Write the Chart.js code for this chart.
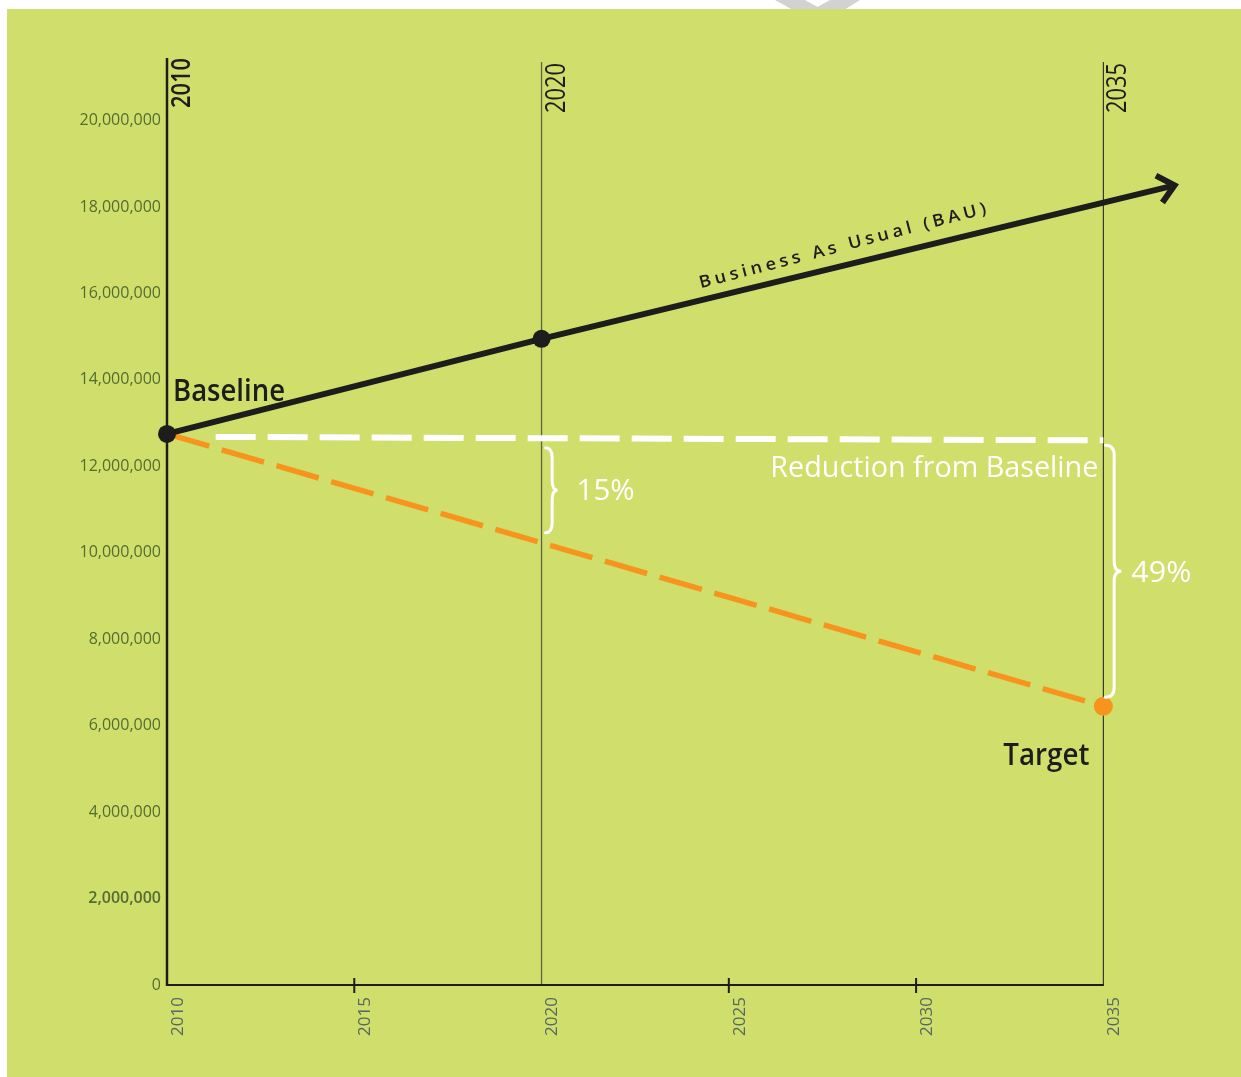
<!DOCTYPE html>
<html>
<head>
<meta charset="utf-8">
<script src="https://cdn.jsdelivr.net/npm/chart.js@4.4.1/dist/chart.umd.min.js"></script>
<style>
  html, body { margin: 0; padding: 0; background: #ffffff; }
  #wrap { width: 1241px; height: 1077px; }
</style>
</head>
<body>
<div id="wrap"><canvas id="c" width="1241" height="1077"></canvas></div>
<script>
// ---------- data ----------
const bauYears = [2010, 2020, 2036.9];
const bauValues = [12750000, 14950000, 18500000];
const reductionYears = [2011.3, 2035];
const reductionValues = [12680000, 12600000];
const targetYears = [2010, 2035];
const targetValues = [12750000, 6450000];

const xTickValues = [2010, 2015, 2020, 2025, 2030, 2035];
const xTickLabels = ['2010', '2015', '2020', '2025', '2030', '2035'];
const yTickValues = [0, 2000000, 4000000, 6000000, 8000000, 10000000, 12000000, 14000000, 16000000, 18000000, 20000000];
const yTickLabels = ['0', '2,000,000', '4,000,000', '6,000,000', '8,000,000', '10,000,000', '12,000,000', '14,000,000', '16,000,000', '18,000,000', '20,000,000'];
const markerYears = [2010, 2020, 2035];
const markerLabels = ['2010', '2020', '2035'];
const minorTickYears = [2015, 2025, 2030];

const labelBAU = 'Business As Usual (BAU)';
const labelBaseline = 'Baseline';
const labelTarget = 'Target';
const labelReduction = 'Reduction from Baseline';
const label15 = '15%';
const label49 = '49%';

const toPts = (xs, ys) => xs.map((x, i) => ({ x: x, y: ys[i] }));

const FONT = '"Open Sans", "Noto Sans", sans-serif';
const GREEN = 'rgb(208,223,107)';

function drawText(ctx, s, x, y, o) {
  ctx.save();
  ctx.translate(x, y);
  if (o.rot) ctx.rotate(o.rot);
  ctx.font = (o.weight || 400) + ' ' + o.size + 'px ' + FONT;
  ctx.letterSpacing = (o.spacing || 0) + 'px';
  ctx.textBaseline = 'alphabetic';
  ctx.textAlign = 'left';
  const w = ctx.measureText(s).width - (o.spacing || 0);
  const sx = o.width ? o.width / w : 1;
  ctx.scale(sx, 1);
  let dx = 0;
  if (o.align === 'right') dx = -w;
  else if (o.align === 'center') dx = -w / 2;
  ctx.fillStyle = o.color;
  ctx.fillText(s, dx, 0);
  ctx.restore();
}

function brace(ctx, x, y1, y2, w) {
  const mid = (y1 + y2) / 2;
  const r = Math.min(10, (y2 - y1) / 6);
  const xm = x + w * 0.55;
  ctx.beginPath();
  ctx.moveTo(x, y1);
  ctx.quadraticCurveTo(xm, y1, xm, y1 + r);
  ctx.lineTo(xm, mid - r);
  ctx.quadraticCurveTo(xm, mid, x + w, mid);
  ctx.quadraticCurveTo(xm, mid, xm, mid + r);
  ctx.lineTo(xm, y2 - r);
  ctx.quadraticCurveTo(xm, y2, x, y2);
  ctx.stroke();
}

const bgPlugin = {
  id: 'bg',
  beforeDraw(chart) {
    const ctx = chart.ctx;
    ctx.save();
    ctx.fillStyle = '#ffffff';
    ctx.fillRect(0, 0, chart.width, chart.height);
    // faint grey mark behind the panel top
    ctx.fillStyle = '#d2d2d2';
    ctx.beginPath();
    ctx.moveTo(775, 0); ctx.lineTo(805, 0); ctx.lineTo(823, 10); ctx.lineTo(793, 10); ctx.closePath(); ctx.fill();
    ctx.beginPath();
    ctx.moveTo(830, 0); ctx.lineTo(860, 0); ctx.lineTo(844, 10); ctx.lineTo(812, 10); ctx.closePath(); ctx.fill();
    ctx.fillStyle = GREEN;
    ctx.fillRect(7, 9, chart.width - 7, chart.height - 9);
    ctx.restore();
  },
  beforeDatasetsDraw(chart) {
    const ctx = chart.ctx;
    const xs = chart.scales.x, ys = chart.scales.y;
    const top = chart.chartArea.top;
    const y0 = ys.getPixelForValue(0);
    ctx.save();
    // vertical marker lines
    markerYears.forEach((yr, i) => {
      const px = xs.getPixelForValue(yr);
      ctx.beginPath();
      if (i === 0) { ctx.strokeStyle = '#1d1d1b'; ctx.lineWidth = 2.5; ctx.moveTo(px, top - 2); }
      else if (i === 1) { ctx.strokeStyle = '#5a6448'; ctx.lineWidth = 1.3; ctx.moveTo(px, top + 2); }
      else { ctx.strokeStyle = '#2a2a28'; ctx.lineWidth = 1.1; ctx.moveTo(px, top + 2); }
      ctx.lineTo(px, y0 + 1);
      ctx.stroke();
    });
    // x axis line
    ctx.strokeStyle = '#1d1d1b';
    ctx.lineWidth = 2;
    ctx.beginPath();
    ctx.moveTo(xs.getPixelForValue(markerYears[0]), y0);
    ctx.lineTo(xs.getPixelForValue(markerYears[markerYears.length - 1]), y0);
    ctx.stroke();
    // minor ticks
    ctx.lineWidth = 2;
    minorTickYears.forEach(yr => {
      const px = xs.getPixelForValue(yr);
      ctx.beginPath();
      ctx.moveTo(px, y0 - 7);
      ctx.lineTo(px, y0 + 8);
      ctx.stroke();
    });
    // top year labels
    markerLabels.forEach((lab, i) => {
      const px = xs.getPixelForValue(markerYears[i]);
      const bottom = i === 0 ? top + 48 : top + 53;
      drawText(ctx, lab, px + 23, bottom, { size: 27, weight: i === 0 ? 600 : 500, color: '#1d1d1b', rot: -Math.PI / 2, width: 50 });
    });
    ctx.restore();
  },
  afterDatasetsDraw(chart) {
    const ctx = chart.ctx;
    const xs = chart.scales.x, ys = chart.scales.y;
    ctx.save();
    // arrow head on BAU
    const n = bauYears.length;
    const tx = xs.getPixelForValue(bauYears[n - 1]), ty = ys.getPixelForValue(bauValues[n - 1]);
    const px = xs.getPixelForValue(bauYears[n - 2]), py = ys.getPixelForValue(bauValues[n - 2]);
    const ang = Math.atan2(ty - py, tx - px);
    const L = 21, spread = 0.72;
    ctx.strokeStyle = '#1d1d1b';
    ctx.lineWidth = 6;
    ctx.lineJoin = 'miter';
    ctx.lineCap = 'butt';
    ctx.beginPath();
    ctx.moveTo(tx - L * Math.cos(ang - spread), ty - L * Math.sin(ang - spread));
    ctx.lineTo(tx, ty);
    ctx.lineTo(tx - L * Math.cos(ang + spread), ty - L * Math.sin(ang + spread));
    ctx.stroke();

    // BAU label along the line
    const bx = xs.getPixelForValue(2024.25);
    const by0 = ys.getPixelForValue(bauValues[1]) + (bx - xs.getPixelForValue(bauYears[1])) * Math.tan(ang);
    drawText(ctx, labelBAU, bx, by0 - 12, { size: 17, weight: 600, color: '#1d1d1b', rot: ang - 0.018, spacing: 3.6, width: 296 });

    const x2010 = xs.getPixelForValue(2010), x2020 = xs.getPixelForValue(2020), x2035 = xs.getPixelForValue(2035);
    const yBase = ys.getPixelForValue(bauValues[0]);
    const yTarget = ys.getPixelForValue(targetValues[1]);
    const yRed = ys.getPixelForValue(reductionValues[1]);
    const yRed2020 = ys.getPixelForValue(12640000);
    const yT2020 = ys.getPixelForValue(targetValues[0] + (targetValues[1] - targetValues[0]) * 10 / 25);

    drawText(ctx, labelBaseline, x2010 + 6, yBase - 33, { size: 31, weight: 600, color: '#1d1d1b', width: 112 });
    drawText(ctx, labelTarget, x2035 - 14, yTarget + 59, { size: 31, weight: 600, color: '#1d1d1b', width: 86, align: 'right' });
    drawText(ctx, labelReduction, x2035 - 5, yRed + 37, { size: 30, weight: 500, color: '#ffffff', width: 328, align: 'right' });

    ctx.strokeStyle = '#ffffff';
    ctx.lineWidth = 3;
    ctx.lineCap = 'round';
    brace(ctx, x2020 + 4, yRed2020 + 9, yT2020 - 10, 12);
    drawText(ctx, label15, x2020 + 35, (yRed2020 + yT2020) / 2 + 9, { size: 30, weight: 400, color: '#ffffff', width: 58 });

    brace(ctx, x2035 + 2, yRed + 5, yTarget - 9, 16);
    drawText(ctx, label49, x2035 + 28, (yRed + yTarget) / 2 + 9, { size: 30, weight: 400, color: '#ffffff', width: 60 });
    ctx.restore();
  }
};

const ctx = document.getElementById('c').getContext('2d');
new Chart(ctx, {
  type: 'line',
  data: {
    datasets: [
      {
        label: labelBAU,
        data: toPts(bauYears, bauValues),
        borderColor: '#1d1d1b',
        backgroundColor: '#1d1d1b',
        borderWidth: 6,
        pointRadius: [9, 9, 0],
        pointBackgroundColor: '#1d1d1b',
        pointBorderWidth: 0,
        tension: 0,
        clip: false
      },
      {
        label: labelReduction,
        data: toPts(reductionYears, reductionValues),
        borderColor: '#ffffff',
        borderWidth: 6,
        borderDash: [40, 12],
        pointRadius: 0,
        tension: 0,
        clip: false
      },
      {
        label: labelTarget,
        data: toPts(targetYears, targetValues),
        borderColor: '#f7941d',
        backgroundColor: '#f7941d',
        borderWidth: 5.5,
        borderDash: [44, 13],
        pointRadius: [0, 9.5],
        pointBackgroundColor: '#f7941d',
        pointBorderWidth: 0,
        tension: 0,
        clip: false
      }
    ]
  },
  options: {
    responsive: false,
    animation: false,
    devicePixelRatio: 1,
    layout: { padding: { left: 0, right: 44, top: 60, bottom: 0 } },
    plugins: { legend: { display: false }, tooltip: { enabled: false } },
    scales: {
      x: {
        type: 'linear',
        min: 2010,
        max: 2037.5,
        afterBuildTicks(scale) { scale.ticks = xTickValues.map(v => ({ value: v })); },
        afterFit(scale) { scale.height = 92; },
        grid: { display: false, drawTicks: false },
        border: { display: false },
        ticks: {
          autoSkip: false,
          minRotation: 90,
          maxRotation: 90,
          padding: 12,
          labelOffset: 11,
          color: 'rgb(88,104,96)',
          font: { family: FONT, size: 17 },
          callback(v, i) { return xTickLabels[i]; }
        }
      },
      y: {
        type: 'linear',
        min: 0,
        max: 21400000,
        afterBuildTicks(scale) { scale.ticks = yTickValues.map(v => ({ value: v })); },
        afterFit(scale) { scale.width = 167; },
        grid: { display: false, drawTicks: false },
        border: { display: false },
        ticks: {
          autoSkip: false,
          padding: 6,
          color: 'rgb(84,108,48)',
          font(c) { return { family: FONT, size: 16, weight: c.index === 1 ? 600 : 400 }; },
          callback(v, i) { return yTickLabels[i]; }
        }
      }
    }
  },
  plugins: [bgPlugin]
});
</script>
</body>
</html>
